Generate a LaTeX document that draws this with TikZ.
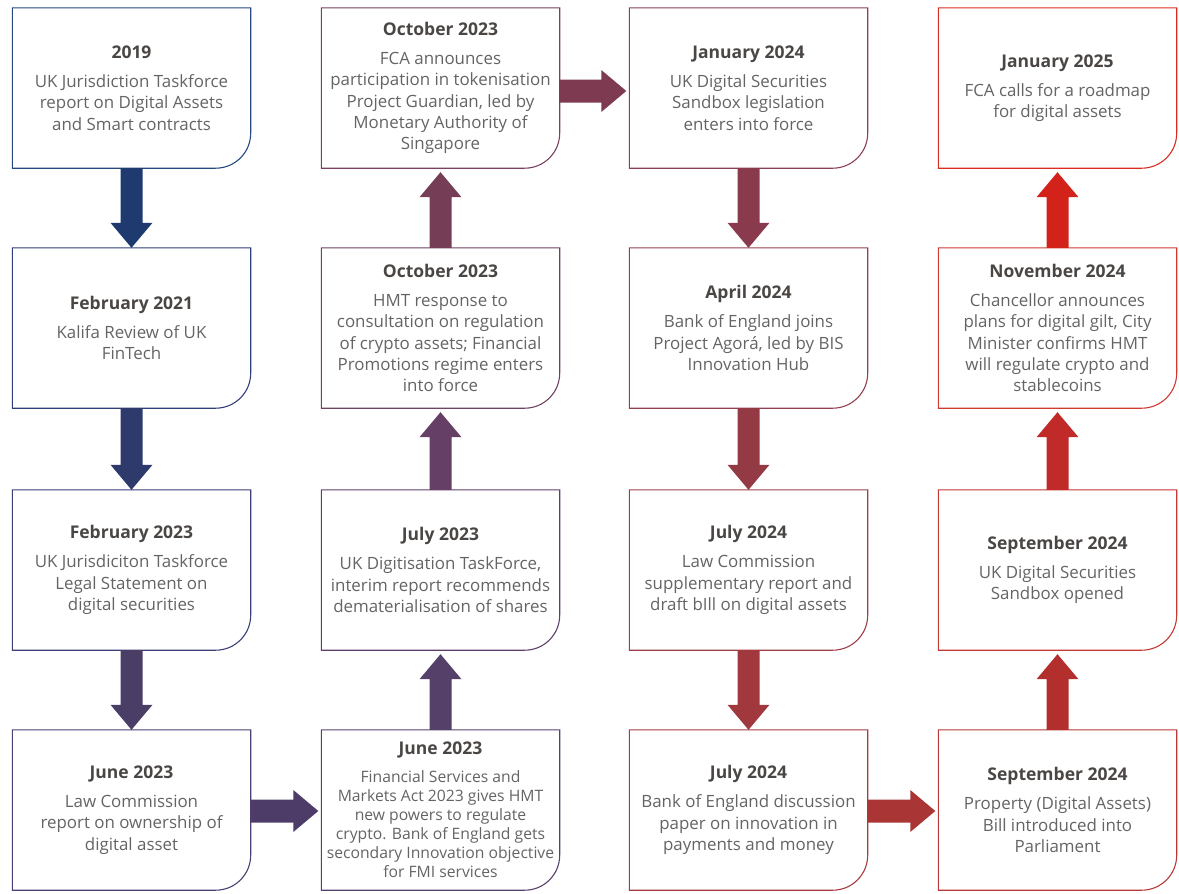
\documentclass[tikz,border=0pt]{standalone}
\usepackage{fontspec}
\setmainfont{Open Sans}
\usetikzlibrary{calc}
\definecolor{titlegray}{HTML}{4A4644}
\definecolor{bodygray}{HTML}{646464}
% box borders
\definecolor{cA}{HTML}{24487F}\definecolor{cB}{HTML}{2F3F77}\definecolor{cC}{HTML}{3B3F78}\definecolor{cD}{HTML}{4B3F73}
\definecolor{cE}{HTML}{56406E}\definecolor{cF}{HTML}{5E3F6B}\definecolor{cG}{HTML}{6E4262}\definecolor{cH}{HTML}{7A4060}
\definecolor{cI}{HTML}{884055}\definecolor{cJ}{HTML}{93404F}\definecolor{cK}{HTML}{9E3D48}\definecolor{cL}{HTML}{A63A40}
\definecolor{cM}{HTML}{B83838}\definecolor{cN}{HTML}{C33833}\definecolor{cO}{HTML}{D03A30}\definecolor{cP}{HTML}{D82E22}
% arrows
\definecolor{a1}{HTML}{1F3A6E}\definecolor{a2}{HTML}{2E3A6B}\definecolor{a3}{HTML}{4A3D66}\definecolor{h1}{HTML}{4E3C68}
\definecolor{a4}{HTML}{55406A}\definecolor{a5}{HTML}{653F66}\definecolor{a6}{HTML}{763D57}\definecolor{h2}{HTML}{7E3A50}
\definecolor{a7}{HTML}{893A4C}\definecolor{a8}{HTML}{943A45}\definecolor{a9}{HTML}{A0383D}\definecolor{h3}{HTML}{A93535}
\definecolor{a10}{HTML}{B32F2E}\definecolor{a11}{HTML}{C02A28}\definecolor{a12}{HTML}{D3221A}
\newcommand{\ttl}[1]{{\color{titlegray}\bfseries\fontsize{17.5}{21.3}\selectfont #1}\\[8pt]}
\newcommand{\boxoutline}[2]{\draw[#2,line width=1.1pt] (#1.north west) -- (#1.north east) -- ([yshift=35pt]#1.south east) arc[start angle=0,end angle=-90,radius=35pt] -- (#1.south west) -- cycle;}
\newcommand{\dnarrowx}[3]{\fill[#3] ([xshift=-11pt]#1.south) -- ([xshift=11pt]#1.south) -- ([xshift=11pt,yshift=25pt]#2.north) -- ([xshift=21pt,yshift=25pt]#2.north) -- (#2.north) -- ([xshift=-21pt,yshift=25pt]#2.north) -- ([xshift=-11pt,yshift=25pt]#2.north) -- cycle;}
\newcommand{\uparrowx}[3]{\fill[#3] ([xshift=-11pt]#1.north) -- ([xshift=11pt]#1.north) -- ([xshift=11pt,yshift=-29pt]#2.south) -- ([xshift=21pt,yshift=-29pt]#2.south) -- ([yshift=-4pt]#2.south) -- ([xshift=-21pt,yshift=-29pt]#2.south) -- ([xshift=-11pt,yshift=-29pt]#2.south) -- cycle;}
\newcommand{\rtarrowx}[4]{\fill[#3] ([yshift={(11.5+#4)*1pt}]#1.east) -- ([xshift=-28pt,yshift={(11.5+#4)*1pt}]#2.west) -- ([xshift=-28pt,yshift={(21+#4)*1pt}]#2.west) -- ([xshift=-3pt,yshift={(#4)*1pt}]#2.west) -- ([xshift=-28pt,yshift={(-21+#4)*1pt}]#2.west) -- ([xshift=-28pt,yshift={(-11.5+#4)*1pt}]#2.west) -- ([yshift={(-11.5+#4)*1pt}]#1.east) -- cycle;}
\begin{document}
\begin{tikzpicture}[x=1pt,y=1pt,
  box/.style={minimum width=238pt,minimum height=160pt,inner sep=0pt,align=center,
    text=bodygray,font=\fontsize{16.9}{21.3}\selectfont}]
\useasboundingbox (0,0) rectangle (1179,-894);
% column 1
\node[box] (b11) at (131.5,-88) {\ttl{2019}UK Jurisdiction Taskforce\\report on Digital Assets\\and Smart contracts};
\node[box] (b12) at (131.5,-328) {\ttl{February 2021}Kalifa Review of UK\\FinTech};
\node[box] (b13) at (131.5,-570) {\ttl{February 2023}UK Jurisdiciton Taskforce\\Legal Statement on\\digital securities};
\node[box] (b14) at (131.5,-810) {\ttl{June 2023}Law Commission\\report on ownership of\\digital asset};
% column 2
\node[box,font=\fontsize{15.7}{19}\selectfont] (b24) at (440.5,-810) {{\color{titlegray}\bfseries\fontsize{17.5}{19}\selectfont June 2023}\\[9pt]Financial Services and\\Markets Act 2023 gives HMT\\new powers to regulate\\crypto. Bank of England gets\\secondary Innovation objective\\for FMI services};
\node[box] (b23) at (440.5,-570) {\ttl{July 2023}UK Digitisation TaskForce,\\interim report recommends\\dematerialisation of shares};
\node[box] (b22) at (440.5,-328) {\ttl{October 2023}HMT response to\\consultation on regulation\\of crypto assets; Financial\\Promotions regime enters\\into force};
\node[box] (b21) at (440.5,-88) {\ttl{October 2023}FCA announces\\participation in tokenisation\\Project Guardian, led by\\Monetary Authority of\\Singapore};
% column 3
\node[box] (b31) at (748.5,-88) {\ttl{January 2024}UK Digital Securities\\Sandbox legislation\\enters into force};
\node[box] (b32) at (748.5,-328) {\ttl{April 2024}Bank of England joins\\Project Agorá, led by BIS\\Innovation Hub};
\node[box] (b33) at (748.5,-570) {\ttl{July 2024}Law Commission\\supplementary report and\\draft bIll on digital assets};
\node[box] (b34) at (748.5,-810) {\ttl{July 2024}Bank of England discussion\\paper on innovation in\\payments and money};
% column 4
\node[box] (b44) at (1057.5,-810) {\ttl{September 2024}Property (Digital Assets)\\Bill introduced into\\Parliament};
\node[box] (b43) at (1057.5,-570) {\ttl{September 2024}UK Digital Securities\\Sandbox opened};
\node[box] (b42) at (1057.5,-328) {\ttl{November 2024}Chancellor announces\\plans for digital gilt, City\\Minister confirms HMT\\will regulate crypto and\\stablecoins};
\node[box] (b41) at (1057.5,-88) {\ttl{January 2025}FCA calls for a roadmap\\for digital assets};
% outlines
\boxoutline{b11}{cA}\boxoutline{b12}{cB}\boxoutline{b13}{cC}\boxoutline{b14}{cD}
\boxoutline{b24}{cE}\boxoutline{b23}{cF}\boxoutline{b22}{cG}\boxoutline{b21}{cH}
\boxoutline{b31}{cI}\boxoutline{b32}{cJ}\boxoutline{b33}{cK}\boxoutline{b34}{cL}
\boxoutline{b44}{cM}\boxoutline{b43}{cN}\boxoutline{b42}{cO}\boxoutline{b41}{cP}
% arrows
\dnarrowx{b11}{b12}{a1}\dnarrowx{b12}{b13}{a2}\dnarrowx{b13}{b14}{a3}
\rtarrowx{b14}{b24}{h1}{-1}
\uparrowx{b24}{b23}{a4}\uparrowx{b23}{b22}{a5}\uparrowx{b22}{b21}{a6}
\rtarrowx{b21}{b31}{h2}{-3}
\dnarrowx{b31}{b32}{a7}\dnarrowx{b32}{b33}{a8}\dnarrowx{b33}{b34}{a9}
\rtarrowx{b34}{b44}{h3}{-1}
\uparrowx{b44}{b43}{a10}\uparrowx{b43}{b42}{a11}\uparrowx{b42}{b41}{a12}
\end{tikzpicture}
\end{document}
